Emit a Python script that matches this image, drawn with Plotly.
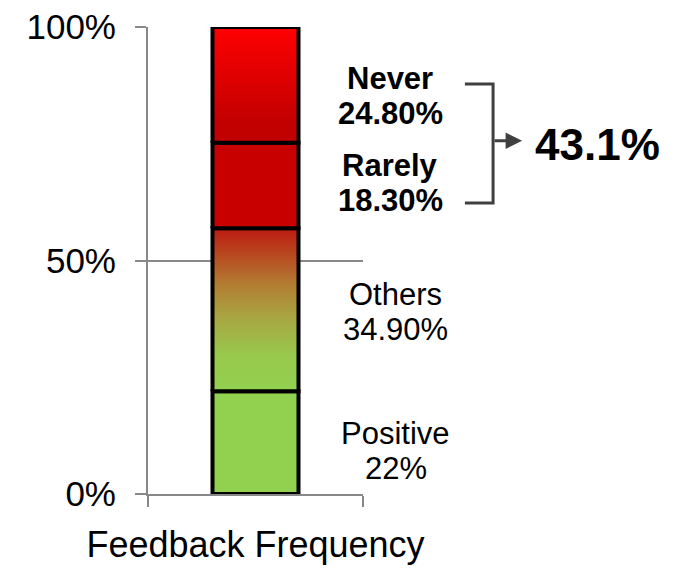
import plotly.graph_objects as go

# Survey shares (percent), stacked bottom to top
categories = ["Positive", "Others", "Rarely", "Never"]
shares = [22.0, 34.9, 18.3, 24.8]
value_labels = ["22%", "34.90%", "18.30%", "24.80%"]
group_label = "Feedback Frequency"
y_ticks = [0, 50, 100]
y_tick_text = ["0%", "50%", "100%"]

# Fill style per segment: solid colour or bottom-to-top gradient
seg_fill = {
    "Positive": {"color": "#92D050"},
    "Others": {"scale": [[0.0, "#92D050"], [0.22, "#98C84C"], [0.45, "#A8A642"],
                         [0.65, "#B27E32"], [0.82, "#B84E22"], [1.0, "#BC1A10"]]},
    "Rarely": {"color": "#C80000"},
    "Never": {"scale": [[0.0, "#C00000"], [0.2, "#C40000"], [1.0, "#FF0000"]]},
}
bold_labels = {"Rarely", "Never"}
label_shift = {"Positive": -8, "Others": -2, "Rarely": 3, "Never": -11}

FONT = "Liberation Sans, Arial, sans-serif"
HALF_W = 0.2
PLOT_W = 215  # plot area width in px

fig = go.Figure()

base = 0.0
bases, tops = [], []
for name, val in zip(categories, shares):
    top = base + val
    bases.append(base)
    tops.append(top)
    xs = [-HALF_W, HALF_W, HALF_W, -HALF_W, -HALF_W]
    ys = [base, base, top, top, base]
    style = seg_fill[name]
    kw = dict(x=xs, y=ys, mode="lines", fill="toself", name=name,
              line=dict(color="black", width=4), hoverinfo="name",
              showlegend=False)
    if "scale" in style:
        kw["fillgradient"] = dict(type="vertical", colorscale=style["scale"])
    else:
        kw["fillcolor"] = style["color"]
    fig.add_trace(go.Scatter(**kw))
    base = top

# Segment labels to the right of the bar
for name, lab, b, t in zip(categories, value_labels, bases, tops):
    mid = (b + t) / 2
    bold = name in bold_labels
    xpos = 1.126 if bold else 1.153
    for txt, dy in ((f"<b>{name}</b>" if bold else name, 17.5),
                    (f"<b>{lab}</b>" if bold else lab, -17.5)):
        fig.add_annotation(x=xpos, y=mid / 100, xref="paper", yref="paper",
                           text=txt, showarrow=False, xanchor="center",
                           yanchor="middle", yshift=dy + label_shift[name],
                           font=dict(family=FONT, size=31, color="black"))

# Bracket grouping the two negative answers, with arrow to their total
neg_total = shares[2] + shares[3]
split_y = tops[1] + shares[2]
br_col = "#404040"
br_top, br_bot = 87.8, 62.3
x_in, x_br, x_tip = 1.474, 1.605, 1.74
fig.add_shape(type="path", xref="paper", yref="paper",
              path=(f"M {x_in},{br_top/100} L {x_br},{br_top/100} "
                    f"L {x_br},{br_bot/100} L {x_in},{br_bot/100}"),
              line=dict(color=br_col, width=3))
fig.add_annotation(x=x_tip, y=split_y / 100, xref="paper", yref="paper",
                   ax=-(x_tip - x_br) * PLOT_W, ay=0,
                   text="", showarrow=True, arrowhead=2, arrowsize=1.1,
                   arrowwidth=3, arrowcolor=br_col, standoff=0, yshift=2)
fig.add_annotation(x=2.09, y=split_y / 100, xref="paper", yref="paper",
                   text=f"<b>{neg_total:.1f}%</b>", showarrow=False,
                   xanchor="center", yanchor="middle", yshift=-2,
                   font=dict(family=FONT, size=44, color="black"))

axis_col = "#888888"
fig.update_layout(
    width=679, height=569,
    margin=dict(l=148, r=316, t=27, b=75, pad=0),
    paper_bgcolor="white", plot_bgcolor="white",
    font=dict(family=FONT, color="black"),
    xaxis=dict(range=[-0.5, 0.5], tickvals=[0], ticktext=[group_label],
               ticks="", showgrid=False, zeroline=False, automargin=False,
               showline=True, linecolor=axis_col, linewidth=2,
               tickfont=dict(size=36, family=FONT, color="black"),
               ticklabelstandoff=18,
               minor=dict(tickmode="linear", tick0=-0.5, dtick=1,
                          ticks="outside", ticklen=11, tickwidth=2,
                          tickcolor=axis_col, showgrid=False),
               fixedrange=True),
    yaxis=dict(range=[0, 100], tickvals=y_ticks, ticktext=y_tick_text,
               ticks="outside", ticklen=11, tickwidth=2, tickcolor=axis_col,
               showgrid=True, gridcolor=axis_col, gridwidth=2,
               zeroline=False, showline=True, linecolor=axis_col,
               linewidth=2, ticklabelstandoff=12, automargin=False,
               tickfont=dict(size=35, family=FONT, color="black"),
               fixedrange=True),
)

fig.write_html("out.html")
